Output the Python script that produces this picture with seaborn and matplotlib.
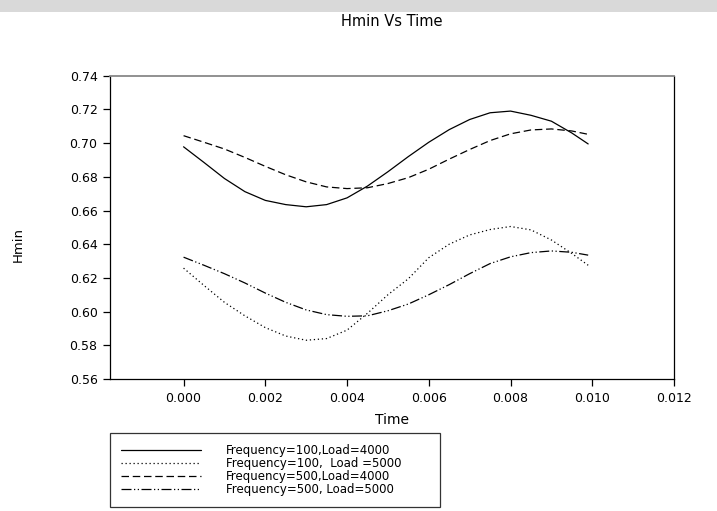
import numpy as np
import pandas as pd
import matplotlib
matplotlib.use("Agg")
import matplotlib.pyplot as plt
import seaborn as sns
from matplotlib.patches import Rectangle

time = [0.0, 0.0005, 0.001, 0.0015, 0.002, 0.0025, 0.003, 0.0035, 0.004, 0.0045,
        0.005, 0.0055, 0.006, 0.0065, 0.007, 0.0075, 0.008, 0.0085, 0.009, 0.0095, 0.0099]

f100_l4000 = [0.6978, 0.6885, 0.6790, 0.6712, 0.6660, 0.6635, 0.6622, 0.6635, 0.6675, 0.6745,
              0.6830, 0.6920, 0.7005, 0.7080, 0.7140, 0.7180, 0.7190, 0.7165, 0.7130, 0.7060, 0.6995]
f100_l5000 = [0.6258, 0.6155, 0.6055, 0.5975, 0.5905, 0.5855, 0.5830, 0.5840, 0.5890, 0.5990,
              0.6100, 0.6195, 0.6320, 0.6400, 0.6455, 0.6487, 0.6505, 0.6485, 0.6425, 0.6345, 0.6275]
f500_l4000 = [0.7044, 0.7005, 0.6965, 0.6915, 0.6862, 0.6812, 0.6770, 0.6740, 0.6730, 0.6735,
              0.6760, 0.6795, 0.6845, 0.6905, 0.6962, 0.7015, 0.7055, 0.7078, 0.7084, 0.7072, 0.7052]
f500_l5000 = [0.6323, 0.6275, 0.6225, 0.6170, 0.6110, 0.6055, 0.6010, 0.5982, 0.5972, 0.5975,
              0.6005, 0.6045, 0.6100, 0.6160, 0.6225, 0.6285, 0.6325, 0.6350, 0.6360, 0.6352, 0.6335]

labels = ["Frequency=100,Load=4000", "Frequency=100,  Load =5000",
          "Frequency=500,Load=4000", "Frequency=500, Load=5000"]
series = [f100_l4000, f100_l5000, f500_l4000, f500_l5000]

yticks = [0.56, 0.58, 0.60, 0.62, 0.64, 0.66, 0.68, 0.70, 0.72, 0.74]
xticks = [0.000, 0.002, 0.004, 0.006, 0.008, 0.010, 0.012]

df = pd.concat([pd.DataFrame({"Time": time, "Hmin": s, "Series": lab})
                for s, lab in zip(series, labels)], ignore_index=True)

sns.set_style("white")
plt.rcParams["font.family"] = ["DejaVu Sans"]
plt.rcParams["text.color"] = "black"
plt.rcParams["axes.labelcolor"] = "black"
plt.rcParams["xtick.color"] = "black"
plt.rcParams["ytick.color"] = "black"

fig = plt.figure(figsize=(7.17, 5.11), dpi=100)
# light gray band at the top of the screenshot
fig.patches.append(Rectangle((0, 1 - 12 / 511), 1, 12 / 511, transform=fig.transFigure,
                             facecolor="#d9d9d9", edgecolor="none", zorder=0))
ax = fig.add_axes([110 / 717, 1 - 379 / 511, (674 - 110) / 717, (379 - 75.7) / 511])

dashes = {labels[0]: "", labels[1]: (1, 2.2), labels[2]: (6, 3), labels[3]: (8, 2, 1, 2, 1, 2)}
sns.lineplot(data=df, x="Time", y="Hmin", style="Series", style_order=labels,
             dashes=dashes, color="black", linewidth=0.9, ax=ax, legend=True)

ax.set_xlim(-0.0018, 0.012)
ax.set_ylim(0.56, 0.74)
ax.set_xticks(xticks)
ax.set_xticklabels([f"{v:.3f}" for v in xticks])
ax.set_yticks(yticks)
ax.set_yticklabels([f"{v:.2f}" for v in yticks])
ax.tick_params(axis="both", direction="out", length=5, width=0.9, color="black",
               labelcolor="black", labelsize=9, bottom=True, left=True, pad=4)
for side in ["left", "bottom", "right"]:
    ax.spines[side].set_color("black")
    ax.spines[side].set_linewidth(0.9)
ax.spines["top"].set_color("#888888")
ax.spines["top"].set_linewidth(1.3)

ax.set_xlabel("Time", fontsize=10, labelpad=6, color="black")
ax.set_ylabel("")
fig.text(18 / 717, 1 - 245 / 511, "Hmin", rotation=90, ha="center", va="center",
         fontsize=9.5, color="black")
fig.text(392 / 717, 1 - 22 / 511, "Hmin Vs Time", ha="center", va="center",
         fontsize=10.5, color="black")

handles, labs = ax.get_legend_handles_labels()
ax.get_legend().remove()
leg = fig.legend(handles, labs, loc="upper left", mode="expand",
                 bbox_to_anchor=(110 / 717, 1 - 509 / 511, 330 / 717, 76 / 511),
                 fontsize=8.5, frameon=True, fancybox=False, handlelength=6.8,
                 handletextpad=2.1, labelspacing=0.0, borderpad=0.95, borderaxespad=0)
leg.get_frame().set_edgecolor("black")
leg.get_frame().set_linewidth(0.9)
for line in leg.get_lines():
    line.set_linewidth(0.9)
for t in leg.get_texts():
    t.set_color("black")

fig.savefig("out.png", dpi=100)
